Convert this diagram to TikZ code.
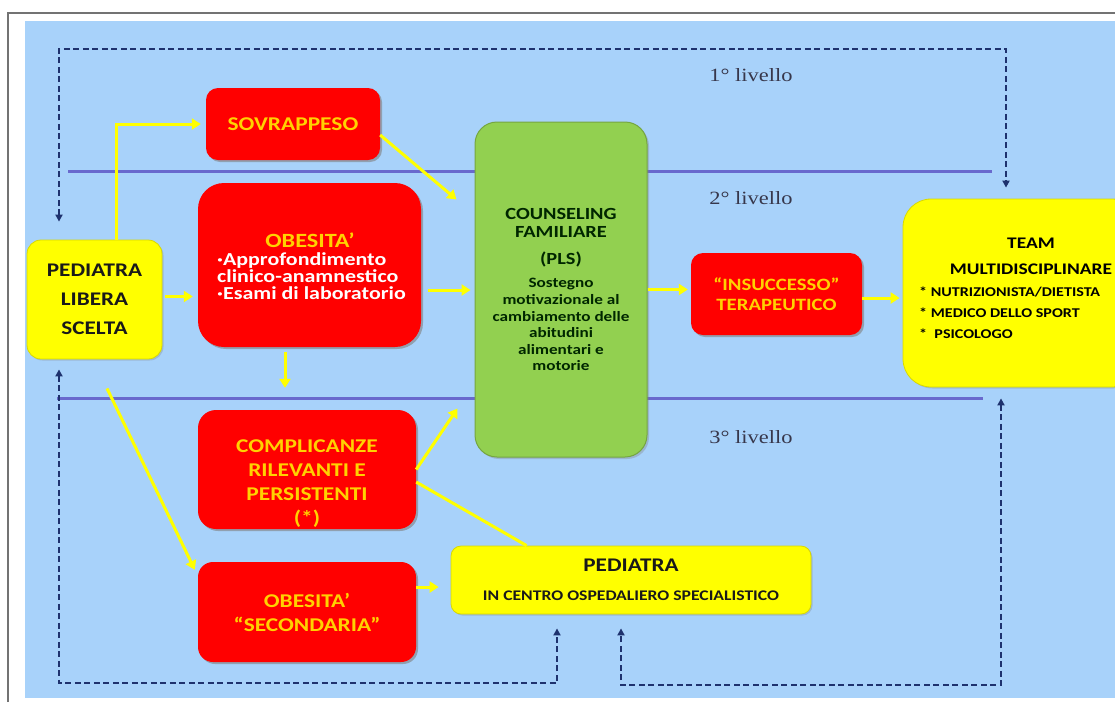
\documentclass[tikz,border=0pt]{standalone}
\usepackage{fontspec}
\setmainfont{Carlito}[FakeStretch=1.2]
\newfontfamily\levelfont{Liberation Serif}[FakeStretch=1.2]
\usetikzlibrary{arrows.meta,calc,shadows}
\definecolor{bgblue}{RGB}{168,210,250}
\definecolor{boxred}{RGB}{255,0,0}
\definecolor{headyellow}{RGB}{255,210,0}
\definecolor{boxyellow}{RGB}{255,255,0}
\definecolor{boxgreen}{RGB}{146,208,80}
\definecolor{arrowyellow}{RGB}{255,255,0}
\definecolor{dashnavy}{RGB}{30,50,110}
\definecolor{levelblue}{RGB}{105,105,205}
\definecolor{leveltext}{RGB}{55,55,75}
\definecolor{framegray}{RGB}{115,115,115}

\begin{document}
\begin{tikzpicture}[x=1pt, y=-1pt,
    redbox/.style={fill=boxred, rounded corners=12pt, inner sep=0pt, align=center, text=headyellow,
      font=\bfseries\fontsize{19.5}{24}\selectfont,
      drop shadow={shadow xshift=2pt, shadow yshift=-2pt, opacity=0.6}},
    yellowbox/.style={fill=boxyellow, draw=boxyellow!85!black, line width=0.8pt, rounded corners=14pt,
      inner sep=0pt, align=center, text=black!90,
      drop shadow={shadow xshift=1.5pt, shadow yshift=-1.5pt, opacity=0.3}},
    greenbox/.style={fill=boxgreen, draw=boxgreen!80!black, line width=1pt, rounded corners=22pt,
      inner sep=0pt, align=center, text=black!85!green,
      drop shadow={shadow xshift=2pt, shadow yshift=-2pt, opacity=0.35}},
    boxtext/.style={inner sep=0pt, align=center},
    yarrow/.style={draw=arrowyellow, line width=3pt, -{Triangle[length=9pt,width=11pt]}},
    yline/.style={draw=arrowyellow, line width=3pt},
    dasharrow/.style={draw=dashnavy, line width=1.8pt, dash pattern=on 6pt off 3.5pt,
      {Triangle[length=7pt,width=7pt]}-{Triangle[length=7pt,width=7pt]}},
    levelline/.style={draw=levelblue, line width=3pt},
    levellabel/.style={inner sep=0pt, text=leveltext, font=\levelfont\fontsize{18.7}{20}\selectfont}]

  \useasboundingbox (0,0) rectangle (1115,702);
  \fill[white] (0,0) rectangle (1115,702);
  \fill[bgblue] (25,21) rectangle (1115,698);
  \draw[framegray, line width=2.5pt] (8,702) -- (8,13) -- (1115,13);

  % level separators
  \draw[levelline] (68,171) -- (992,171);
  \draw[levelline] (57,398) -- (983,398);

  \node[levellabel] (lvl1) at (751,75) {1° livello};
  \node[levellabel] (lvl2) at (751,198) {2° livello};
  \node[levellabel] (lvl3) at (751,437) {3° livello};

  % boxes
  \node[yellowbox, minimum width=135, minimum height=119, font=\bfseries\fontsize{19.3}{29}\selectfont]
    (pls) at (94.5,299.5) {PEDIATRA\\LIBERA\\SCELTA};
  \node[redbox, minimum width=174, minimum height=72] (sovr) at (293,124) {SOVRAPPESO};
  \node[redbox, minimum width=223, minimum height=164, rounded corners=26pt] (obes) at (309.5,265) {};
  \node[boxtext, text=headyellow, font=\bfseries\fontsize{20.2}{24}\selectfont] (obeshead) at (310,240) {OBESITA’};
  \node[boxtext, anchor=north west, align=left, text=white, font=\bfseries\fontsize{18.3}{17}\selectfont]
    (obesbody) at (217,252) {·Approfondimento\\clinico-anamnestico\\·Esami di laboratorio};
  \node[redbox, minimum width=218, minimum height=119, rounded corners=18pt] (compl) at (307,469.5) {};
  \node[boxtext, text=headyellow, font=\bfseries\fontsize{19.5}{24}\selectfont]
    (compltext) at (307,484) {COMPLICANZE\\RILEVANTI E\\PERSISTENTI\\(*)};
  \node[redbox, minimum width=218, minimum height=100, rounded corners=15pt] (secnd) at (307,612) {OBESITA’\\“SECONDARIA”};
  \node[greenbox, minimum width=172, minimum height=335, font=\bfseries\fontsize{14.3}{16.6}\selectfont]
    (couns) at (561,289.5) {{\fontsize{17}{17}\selectfont COUNSELING}\\[2pt]{\fontsize{17}{17}\selectfont FAMILIARE}\\[10pt]
    {\fontsize{17}{17}\selectfont (PLS)}\\[7pt]Sostegno\\motivazionale al\\cambiamento delle\\abitudini\\alimentari e\\motorie};
  \node[redbox, minimum width=171, minimum height=82, font=\bfseries\fontsize{17.3}{20}\selectfont]
    (insu) at (776.5,294) {“INSUCCESSO”\\TERAPEUTICO};
  \node[yellowbox, minimum width=237, minimum height=188, rounded corners=28pt] (team) at (1021.5,293) {};
  \node[boxtext, font=\bfseries\fontsize{16.2}{26}\selectfont] (teamhead) at (1031,256) {TEAM\\MULTIDISCIPLINARE};
  \node[boxtext, anchor=west, align=left, font=\bfseries\fontsize{13.4}{21}\selectfont]
    (teambody) at (919,313) {* NUTRIZIONISTA/DIETISTA\\* MEDICO DELLO SPORT\\*~~PSICOLOGO};
  \node[yellowbox, minimum width=360, minimum height=68, rounded corners=10pt, font=\bfseries\fontsize{14.7}{29}\selectfont]
    (ped) at (631,580) {{\fontsize{19.3}{20}\selectfont PEDIATRA}\\IN CENTRO OSPEDALIERO SPECIALISTICO};

  % yellow arrows
  \draw[yarrow, shorten >=5pt] ([xshift=22pt]pls.north) |- (sovr.west);
  \draw[yarrow, shorten <=3pt, shorten >=5pt] ([yshift=3pt]pls.east) -- ([yshift=3pt]pls.east -| obes.west);
  \draw[yarrow] ([yshift=-11pt]sovr.east) -- ($(couns.north west)+(-18,78)$);
  \draw[yarrow, shorten <=7pt, shorten >=4pt] ([yshift=-25pt]obes.east) -- ([yshift=-25pt]obes.east -| couns.west);
  \draw[yarrow, shorten <=5pt, shorten >=22pt] ([xshift=-24.5pt]obes.south) -- ([xshift=-24.5pt]obes.south |- compl.north);
  \draw[yarrow] ($(pls.south)+(12.5,29)$) -- ($(secnd.north west)+(-3,8)$);
  \draw[yarrow] (compl.east) -- ($(couns.south west)+(-17,-49)$);
  \draw[yline] ([yshift=-12.5pt]compl.east) -- ($(ped.north west)+(76,0)$);
  \draw[yarrow, shorten >=12pt] ([yshift=25pt]secnd.east) -- ([yshift=25pt]secnd.east -| ped.west);
  \draw[yarrow, shorten >=3pt] (couns.east) -- (couns.east -| insu.west);
  \draw[yarrow, shorten >=3pt] ([yshift=-4pt]insu.east) -- ([yshift=-4pt]insu.east -| team.west);

  % dashed return paths
  \coordinate (dtl) at (59,49);
  \coordinate (dtr) at (1006,49);
  \coordinate (dbl) at (59,683);
  \coordinate (dbm) at (557,683);
  \coordinate (dbr) at (1001,685);
  \coordinate (dbn) at (621,685);
  \draw[dasharrow, shorten <=18pt, shorten >=11pt] (pls.north -| dtl) -- (dtl) -- (dtr) -- (dtr |- team.north);
  \draw[dasharrow, shorten <=10pt, shorten >=14pt] (pls.south -| dbl) -- (dbl) -- (dbm) -- (dbm |- ped.south);
  \draw[dasharrow, shorten <=11pt, shorten >=14pt] (team.south -| dbr) -- (dbr) -- (dbn) -- (dbn |- ped.south);
\end{tikzpicture}
\end{document}
